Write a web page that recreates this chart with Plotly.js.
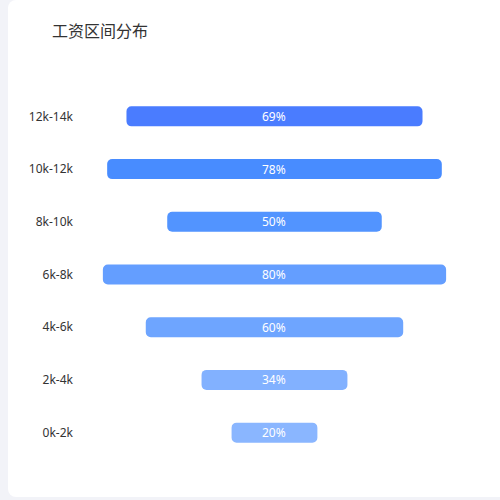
<!DOCTYPE html>
<html><head><meta charset="utf-8">
<script src="https://cdn.plot.ly/plotly-3.0.1.min.js"></script>
<style>
html,body{margin:0;padding:0;background:#f2f3f8;width:500px;height:500px;overflow:hidden;}
#card{position:absolute;left:8px;top:0;width:510px;height:497px;background:#fff;border-radius:8px;}
#chart{position:absolute;left:0;top:0;width:500px;height:500px;}
</style></head>
<body>
<div id="card"></div>
<div id="chart"></div>
<script>
var categories = ["0k-2k","2k-4k","4k-6k","6k-8k","8k-10k","10k-12k","12k-14k"];
var values = [20,34,60,80,50,78,69];
var colors = ["#8ab6ff","#82b1ff","#6ea5ff","#649eff","#5294ff","#488cff","#4a7cff"];

var trace = {
  type:'bar', orientation:'h',
  y: categories,
  x: values,
  base: values.map(function(v){return -v/2;}),
  textposition:'none',
  marker:{color:colors, cornerradius:5, line:{width:0}},
  hoverinfo:'none'
};
var labels = categories.map(function(c,i){
  return {x:0, y:c, xref:'x', yref:'y', text:values[i]+'%', showarrow:false,
    xanchor:'center', yanchor:'middle',
    font:{color:'#ffffff', size:12, family:'"Noto Sans", "Open Sans", sans-serif'}};
});
var layout = {
  width:500, height:500,
  paper_bgcolor:'rgba(0,0,0,0)', plot_bgcolor:'rgba(0,0,0,0)',
  margin:{l:80, r:20, t:90, b:41},
  title:{text:'工资区间分布', xref:'container', yref:'container', x:0.104, xanchor:'left', y:0.938, yanchor:'middle',
    font:{size:16, color:'#333', family:'"Noto Sans CJK SC", sans-serif'}},
  xaxis:{range:[-45.33, 47.9], visible:false, fixedrange:true},
  yaxis:{type:'category', categoryorder:'array', categoryarray:categories, range:[-0.5,6.5],
    showgrid:false, zeroline:false, showline:false, ticks:'', ticklabelstandoff:6,
    tickfont:{size:12, color:'#333', family:'"Noto Sans", "Open Sans", sans-serif'}},
  annotations: labels,
  bargap:0.62,
  showlegend:false
};
Plotly.newPlot('chart',[trace],layout,{displayModeBar:false, staticPlot:true});
</script>
</body></html>
